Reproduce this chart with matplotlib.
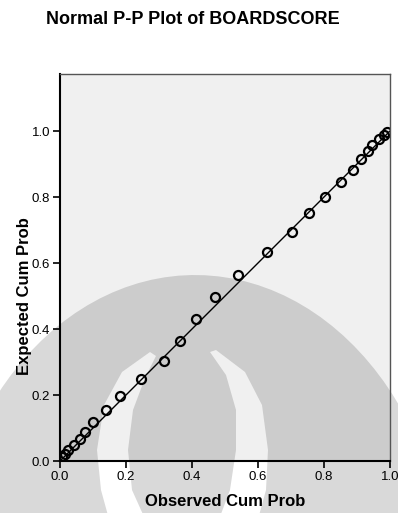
import matplotlib
matplotlib.use("Agg")
import numpy as np
import matplotlib.pyplot as plt
from matplotlib.path import Path
from matplotlib.patches import PathPatch, Rectangle

# Observed vs expected cumulative probabilities
observed = [0.005, 0.015, 0.025, 0.042, 0.061, 0.077, 0.101, 0.139, 0.181, 0.245,
            0.315, 0.365, 0.411, 0.469, 0.540, 0.626, 0.703, 0.755, 0.804, 0.852,
            0.887, 0.911, 0.932, 0.946, 0.968, 0.982, 0.990]
expected = [0.013, 0.021, 0.033, 0.048, 0.067, 0.089, 0.117, 0.155, 0.198, 0.248,
            0.304, 0.365, 0.429, 0.497, 0.563, 0.632, 0.695, 0.751, 0.801, 0.845,
            0.882, 0.914, 0.938, 0.958, 0.975, 0.989, 0.998]
ticks = [0.0, 0.2, 0.4, 0.6, 0.8, 1.0]

plt.rcParams["font.family"] = ["Liberation Sans", "DejaVu Sans"]

W, H = 398, 513
fig = plt.figure(figsize=(W / 100, H / 100), dpi=100)

# background layer in pixel coords: plot area fill + faint watermark
bg = fig.add_axes([0, 0, 1, 1], zorder=-1)
bg.set_xlim(0, W)
bg.set_ylim(H, 0)
bg.axis("off")
bg.add_patch(Rectangle((60, 74), 330, 387, color="black", alpha=0.06, lw=0))


def ring(pts):
    pts = np.asarray(pts, float)
    area = 0.5 * np.sum(pts[:, 0] * np.roll(pts[:, 1], -1) - np.roll(pts[:, 0], -1) * pts[:, 1])
    return pts, area


t = np.linspace(0, 2 * np.pi, 120)
dome, a_dome = ring(np.c_[195 + 255 * np.cos(t), 600 + 325 * np.sin(t)])
left_cres, a1 = ring([(150, 352), (122, 372), (104, 405), (97, 450), (101, 490), (112, 530),
                      (150, 530), (132, 490), (128, 450), (133, 410), (145, 378), (156, 356)])
right_cres, a2 = ring([(210, 352), (226, 375), (236, 410), (236, 450), (230, 490), (215, 530),
                       (255, 530), (266, 490), (268, 450), (262, 405), (245, 372), (216, 350)])
parts = [dome]
for p, a in [(left_cres, a1), (right_cres, a2)]:
    parts.append(p[::-1] if np.sign(a) == np.sign(a_dome) else p)
paths = [Path(np.vstack([p, p[:1]]), closed=True) for p in parts]
bg.add_patch(PathPatch(Path.make_compound_path(*paths), color="black", alpha=0.15, lw=0))

ax = fig.add_axes([60 / W, 52 / H, 330 / W, 387 / H])
ax.set_facecolor("none")

ax.plot([0, 1], [0, 1], color="black", lw=1)
ax.plot(observed, expected, "o", mfc="none", mec="black", ms=6.5, mew=1.6)

ax.set_xlim(0, 1.0)
ax.set_ylim(0, 387 / 330)
ax.set_xticks(ticks)
ax.set_yticks(ticks)
ax.set_xticklabels([f"{t:.1f}" for t in ticks], fontsize=9.5)
ax.set_yticklabels([f"{t:.1f}" for t in ticks], fontsize=9.5)
ax.tick_params(direction="out", length=5, width=1.2, color="black", pad=2)

for s in ["left", "bottom"]:
    ax.spines[s].set_linewidth(1.5)
    ax.spines[s].set_color("black")
for s in ["top", "right"]:
    ax.spines[s].set_linewidth(1)
    ax.spines[s].set_color("#555555")

fig.text(225 / W, 1 - 501 / H, "Observed Cum Prob", ha="center", va="center",
         fontsize=12, fontweight="bold")
fig.text(25 / W, 1 - 296 / H, "Expected Cum Prob", ha="center", va="center",
         rotation=90, fontsize=12, fontweight="bold")
fig.text(193 / W, 1 - 20 / H, "Normal P-P Plot of BOARDSCORE", ha="center", va="center",
         fontsize=13, fontweight="bold")

fig.savefig("out.png", dpi=100)
